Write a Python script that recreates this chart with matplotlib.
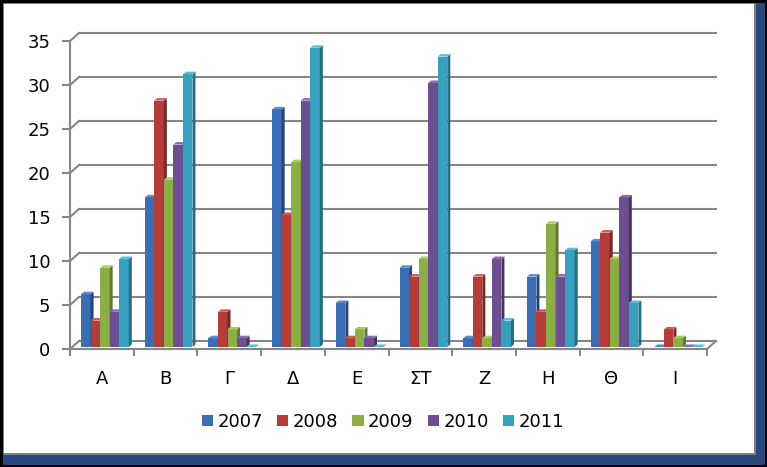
import numpy as np
import matplotlib
matplotlib.use("Agg")
import matplotlib.pyplot as plt
from matplotlib.patches import Rectangle, Polygon, Patch

# data
categories = ["Α", "Β", "Γ", "Δ", "Ε", "ΣΤ", "Ζ", "Η", "Θ", "Ι"]
years = ["2007", "2008", "2009", "2010", "2011"]
v2007 = [6, 17, 1, 27, 5, 9, 1, 8, 12, 0]
v2008 = [3, 28, 4, 15, 1, 8, 8, 4, 13, 2]
v2009 = [9, 19, 2, 21, 2, 10, 1, 14, 10, 1]
v2010 = [4, 23, 1, 28, 1, 30, 10, 8, 17, 0]
v2011 = [10, 31, 0, 34, 0, 33, 3, 11, 5, 0]
series = [v2007, v2008, v2009, v2010, v2011]

front = ["#3C6DB2", "#B43D3A", "#8BAE47", "#6C4F91", "#37A0BF"]
side = ["#25447A", "#7A2826", "#5E7830", "#48355F", "#256E85"]
top = ["#5B8AD0", "#D05A57", "#A8CB62", "#8B6CAF", "#5BBCD9"]

W, H = 767, 467
fig = plt.figure(figsize=(W / 100, H / 100), dpi=100, facecolor="black")

def box(x0, y0, x1, y1, **kw):
    # pixel box (image coords, y down) -> figure rectangle
    r = Rectangle((x0 / W, 1 - y1 / H), (x1 - x0) / W, (y1 - y0) / H,
                  transform=fig.transFigure, zorder=-10, **kw)
    fig.patches.append(r)

# frame: blue shadow, grey border, white inside
box(3, 3, 765, 465, facecolor="#27497D", edgecolor="none")
box(3, 3, 756, 455, facecolor="#7F7F7F", edgecolor="none")
box(4, 4, 754, 453, facecolor="white", edgecolor="none")

# plot area (front plane) in pixels
px0, px1, py0, py1 = 70, 707, 349, 41
ax = fig.add_axes([px0 / W, 1 - py0 / H, (px1 - px0) / W, (py0 - py1) / H])
ax.set_xlim(0, 10)
ax.set_ylim(0, 35)
ax.patch.set_visible(False)
for s in ax.spines.values():
    s.set_visible(False)

sx = (px1 - px0) / 10.0
sy = (py0 - py1) / 35.0
dX, dY = 9 / sx, 8 / sy          # wall depth
grey = "#868686"

# walls / gridlines
for v in range(0, 36, 5):
    ax.plot([dX, 10 + dX], [v + dY, v + dY], color=grey, lw=1.5, clip_on=False, zorder=1)
    ax.plot([0, dX], [v, v + dY], color=grey, lw=1.5, clip_on=False, zorder=1)
ax.plot([0, 0], [0, 35], color=grey, lw=1.5, clip_on=False, zorder=1)
ax.plot([0, 10], [0, 0], color=grey, lw=1.5, clip_on=False, zorder=1)
ax.plot([10, 10 + dX], [0, dY], color=grey, lw=1.5, clip_on=False, zorder=1)

# bars
bw = 0.15
start = 0.157
ox, oy = 1 / sx, 2 / sy     # bar offset into depth
bx, by = 3 / sx, 2.5 / sy   # bar depth
z = 3
x = np.arange(len(categories))
for i in range(len(categories)):
    for k, vals in enumerate(series):
        h = vals[i]
        x0 = i + start + k * bw + ox
        ax.bar(x0, h, width=bw, bottom=oy, align="edge", color=front[k],
               edgecolor="none", zorder=z, clip_on=False)
        ax.add_patch(Polygon([(x0 + bw, oy), (x0 + bw + bx, oy + by),
                              (x0 + bw + bx, oy + h + by), (x0 + bw, oy + h)],
                             closed=True, facecolor=side[k], edgecolor="none",
                             zorder=z, clip_on=False))
        ax.add_patch(Polygon([(x0, oy + h), (x0 + bw, oy + h),
                              (x0 + bw + bx, oy + h + by), (x0 + bx, oy + h + by)],
                             closed=True, facecolor=top[k], edgecolor="none",
                             zorder=z, clip_on=False))
        z += 1

# ticks
ax.set_yticks(range(0, 36, 5))
ax.tick_params(axis="y", length=6, width=1.5, color=grey, pad=8, labelsize=13)
ax.set_xticks(range(0, 11))
ax.set_xticklabels([])
ax.set_xticks(x + 0.5, minor=True)
ax.set_xticklabels(categories, minor=True)
ax.tick_params(axis="x", which="major", length=5, width=1.5, color=grey)
ax.tick_params(axis="x", which="minor", length=0, pad=15, labelsize=13)

handles = [Patch(facecolor=c, edgecolor="none") for c in front]
fig.legend(handles, years, loc="center", bbox_to_anchor=(383 / W, 1 - 422 / H),
           ncol=5, frameon=False, fontsize=13, handlelength=0.61, handleheight=0.61,
           handletextpad=0.25, columnspacing=0.8)

fig.savefig("out.png", dpi=100, facecolor=fig.get_facecolor())
